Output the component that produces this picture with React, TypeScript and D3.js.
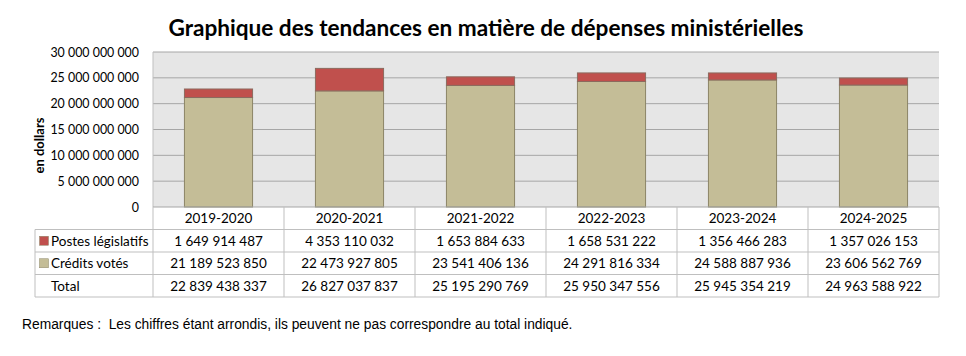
import React from "react";
import * as d3 from "d3";

const years = ["2019-2020", "2020-2021", "2021-2022", "2022-2023", "2023-2024", "2024-2025"];
const postesLegislatifs = [1649914487, 4353110032, 1653884633, 1658531222, 1356466283, 1357026153];
const creditsVotes = [21189523850, 22473927805, 23541406136, 24291816334, 24588887936, 23606562769];
const totals = [22839438337, 26827037837, 25195290769, 25950347556, 25945354219, 24963588922];
const yTicks = [0, 5e9, 10e9, 15e9, 20e9, 25e9, 30e9];

const W = 966, H = 356;
const left = 153, right = 939, top = 52, bottom = 207;
const rowH = 22.5;
const tableLeft = 35;
const RED = "#C0504D";
const TAN = "#C4BD97";
const FONT = "Lato, 'Open Sans', sans-serif";

const fmt = (v: number) => {
  const s = Math.round(v).toString();
  return s.replace(/\B(?=(\d{3})+(?!\d))/g, " ");
};

export default function App() {
  const x = d3.scaleBand<string>().domain(years).range([left, right]).paddingInner(0).paddingOuter(0);
  const y = d3.scaleLinear().domain([0, 30e9]).range([bottom, top]);
  const bw = x.bandwidth() * 0.52;
  const rows = [
    { label: "Postes législatifs", color: RED, values: postesLegislatifs },
    { label: "Crédits votés", color: TAN, values: creditsVotes },
    { label: "Total", color: null as string | null, values: totals },
  ];
  const tableBottom = bottom + rowH * 4;
  const lineColor = "#BFBFBF";
  return (
    <svg width={W} height={H} style={{ position: "absolute", left: 0, top: 0, background: "#fff" }}>
      <rect x={0} y={0} width={W} height={H} fill="#fff" />
      <text x={486} y={35.5} textAnchor="middle" fontFamily={FONT} fontWeight="bold" fontSize={22.6} fill="#000">
        Graphique des tendances en matière de dépenses ministérielles
      </text>
      <rect x={left} y={top} width={right - left} height={bottom - top} fill="#E6E6E6" />
      {yTicks.slice(1).map((t) => (
        <line key={t} x1={left} x2={right} y1={y(t)} y2={y(t)} stroke="#A6A6A6" strokeWidth={1} />
      ))}
      <line x1={left} x2={left} y1={top} y2={bottom} stroke="#BFBFBF" />
      {yTicks.map((t) => (
        <text key={t} x={139} y={y(t) + 4.5} textAnchor="end" fontFamily={FONT} fontSize={12.4} fill="#000">
          {fmt(t)}
        </text>
      ))}
      <text transform={`translate(44,145.5) rotate(-90)`} textAnchor="middle" fontFamily={FONT} fontWeight="bold" fontSize={13} fill="#000">
        en dollars
      </text>
      {years.map((yr, i) => {
        const cx = (x(yr) as number) + x.bandwidth() / 2;
        const v = creditsVotes[i];
        const p = postesLegislatifs[i];
        return (
          <g key={yr}>
            <rect x={cx - bw / 2} y={y(v)} width={bw} height={y(0) - y(v)} fill={TAN} stroke="#8C8567" strokeWidth={1} />
            <rect x={cx - bw / 2} y={y(v + p)} width={bw} height={y(v) - y(v + p)} fill={RED} stroke="#8C6A5E" strokeWidth={1} />
          </g>
        );
      })}
      {/* table */}
      <line x1={left} x2={right} y1={bottom} y2={bottom} stroke="#A6A6A6" />
      {[1, 2, 3, 4].map((r) => (
        <line key={r} x1={tableLeft} x2={right} y1={bottom + rowH * r} y2={bottom + rowH * r} stroke={lineColor} />
      ))}
      <line x1={tableLeft} x2={tableLeft} y1={bottom + rowH} y2={tableBottom} stroke={lineColor} />
      {years.map((yr) => (
        <line key={yr} x1={x(yr) as number} x2={x(yr) as number} y1={bottom} y2={tableBottom} stroke={lineColor} />
      ))}
      <line x1={right} x2={right} y1={bottom} y2={tableBottom} stroke={lineColor} />
      {years.map((yr) => (
        <text key={yr} x={(x(yr) as number) + x.bandwidth() / 2} y={bottom + rowH / 2 + 5} textAnchor="middle" fontFamily={FONT} fontSize={13.5} fill="#000">
          {yr}
        </text>
      ))}
      {rows.map((row, r) => {
        const cy = bottom + rowH * (r + 1) + rowH / 2;
        return (
          <g key={row.label}>
            {row.color && <rect x={39.5} y={cy - 4.5} width={9} height={9} fill={row.color} stroke="#8C8567" strokeWidth={0.5} />}
            <text x={51} y={cy + 5} fontFamily={FONT} fontSize={13.5} fill="#000">
              {row.label}
            </text>
            {row.values.map((v, i) => (
              <text key={i} x={(x(years[i]) as number) + x.bandwidth() / 2} y={cy + 5} textAnchor="middle" fontFamily={FONT} fontSize={13.5} fill="#000">
                {fmt(v)}
              </text>
            ))}
          </g>
        );
      })}
      <text x={22} y={329} fontFamily="'Liberation Sans', Arial, sans-serif" fontSize={13.8} fill="#000" xmlSpace="preserve">
        Remarques :  Les chiffres étant arrondis, ils peuvent ne pas correspondre au total indiqué.
      </text>
    </svg>
  );
}
